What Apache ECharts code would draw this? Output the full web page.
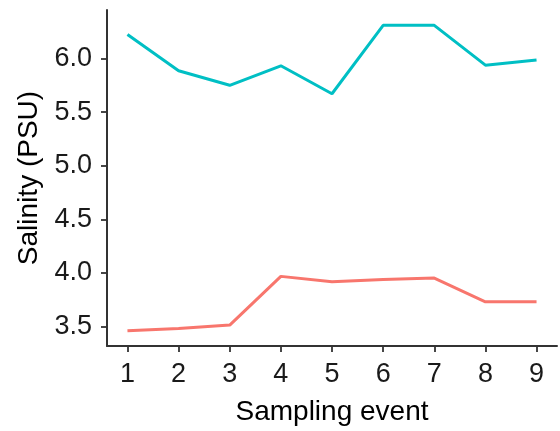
<!DOCTYPE html>
<html>
<head>
<meta charset="utf-8">
<script src="https://cdn.jsdelivr.net/npm/echarts@6/dist/echarts.min.js"></script>
<style>
  html, body { margin: 0; padding: 0; background: #fff; }
  #chart { width: 560px; height: 431px; }
</style>
</head>
<body>
<div id="chart"></div>
<script>
// Data
const samplingEvents = [1, 2, 3, 4, 5, 6, 7, 8, 9];
const salinityHigh = [6.225, 5.887, 5.751, 5.933, 5.672, 6.311, 6.311, 5.939, 5.988];
const salinityLow = [3.46, 3.481, 3.512, 3.967, 3.917, 3.939, 3.951, 3.73, 3.73];
const yTickValues = [3.5, 4.0, 4.5, 5.0, 5.5, 6.0];
const xTickValues = [1, 2, 3, 4, 5, 6, 7, 8, 9];

const font = "'Liberation Sans', Arial, sans-serif";
const chart = echarts.init(document.getElementById('chart'), null, { renderer: 'canvas' });

chart.setOption({
  animation: false,
  backgroundColor: '#ffffff',
  grid: { left: 107, right: 3, top: 10, bottom: 82, containLabel: false },
  xAxis: {
    type: 'value',
    min: 0.6,
    max: 9.4,
    name: 'Sampling event',
    nameLocation: 'middle',
    nameGap: 52,
    nameTextStyle: { fontFamily: font, fontSize: 28, color: '#000' },
    axisLine: { show: true, lineStyle: { color: '#333', width: 2 } },
    axisTick: { show: true, length: 6, customValues: xTickValues, lineStyle: { color: '#333', width: 1.8 } },
    axisLabel: { customValues: xTickValues, margin: 15, fontFamily: font, fontSize: 27, color: '#1a1a1a',
      formatter: v => String(Math.round(v)) },
    splitLine: { show: false }
  },
  yAxis: {
    type: 'value',
    min: 3.317,
    max: 6.454,
    name: 'Salinity (PSU)',
    nameLocation: 'middle',
    nameGap: 64,
    nameRotate: 90,
    nameTextStyle: { fontFamily: font, fontSize: 28, color: '#000' },
    axisLine: { show: true, lineStyle: { color: '#333', width: 2 } },
    axisTick: { show: true, length: 6, customValues: yTickValues, lineStyle: { color: '#333', width: 1.8 } },
    axisLabel: { customValues: yTickValues, margin: 15, fontFamily: font, fontSize: 27, color: '#1a1a1a',
      formatter: v => v.toFixed(1) },
    splitLine: { show: false }
  },
  series: [
    {
      type: 'line',
      data: samplingEvents.map((e, i) => [e, salinityHigh[i]]),
      showSymbol: false,
      lineStyle: { color: '#00BFC4', width: 3 },
      itemStyle: { color: '#00BFC4' }
    },
    {
      type: 'line',
      data: samplingEvents.map((e, i) => [e, salinityLow[i]]),
      showSymbol: false,
      lineStyle: { color: '#F8766D', width: 3 },
      itemStyle: { color: '#F8766D' }
    }
  ]
});
</script>
</body>
</html>
